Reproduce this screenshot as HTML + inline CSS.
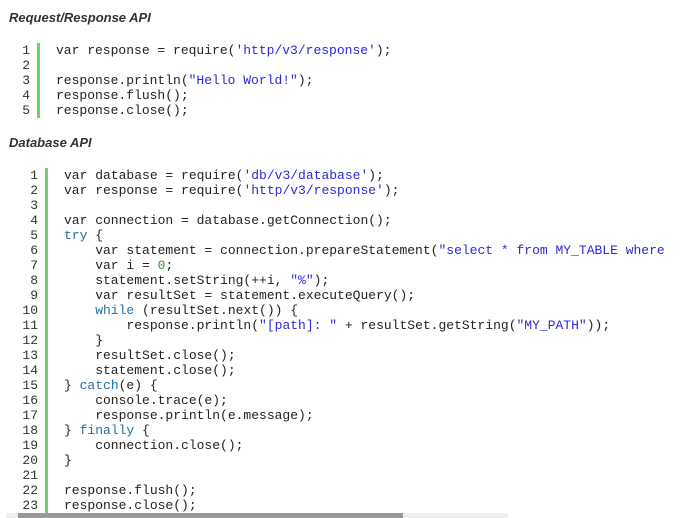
<!DOCTYPE html>
<html><head><meta charset="utf-8"><style>
body{margin:0;width:688px;height:518px;background:#fff;overflow:hidden;position:relative;font-family:"Liberation Sans",sans-serif}
h{position:absolute;font-weight:bold;font-style:italic;font-size:13px;color:#333;left:9px}
.blk{position:absolute;font-family:"Liberation Mono",monospace;font-size:13px;color:#222;white-space:pre;line-height:15px}
.n{position:absolute;text-align:right;width:30px;color:#333}
.bar{position:absolute;background:#6ad66a;width:3px}
.s{color:#2a2ad8}.k{color:#1f6fa8}.g{color:#2a9a2a}
.code{position:absolute;overflow:hidden}
</style></head><body>
<h style="top:10px">Request/Response API</h>
<div class="bar" style="left:37px;top:43px;height:75px"></div>
<div class="blk n" style="left:0;top:43px">1
2
3
4
5</div>
<div class="blk code" style="left:56px;top:43px">var response = require(<span class="s">'http/v3/response'</span>);

response.println(<span class="s">"Hello World!"</span>);
response.flush();
response.close();</div>
<h style="top:135px">Database API</h>
<div class="bar" style="left:45px;top:168px;height:350px"></div>
<div class="blk n" style="left:8px;top:168px">1
2
3
4
5
6
7
8
9
10
11
12
13
14
15
16
17
18
19
20
21
22
23</div>
<div class="blk code" style="left:64px;top:168px;width:606px">var database = require(<span class="s">'db/v3/database'</span>);
var response = require(<span class="s">'http/v3/response'</span>);

var connection = database.getConnection();
<span class="k">try</span> {
    var statement = connection.prepareStatement(<span class="s">"select * from MY_TABLE where MY_PATH like ?"</span>);
    var i = <span class="g">0</span>;
    statement.setString(++i, <span class="s">"%"</span>);
    var resultSet = statement.executeQuery();
    <span class="k">while</span> (resultSet.next()) {
        response.println(<span class="s">"[path]: "</span> + resultSet.getString(<span class="s">"MY_PATH"</span>));
    }
    resultSet.close();
    statement.close();
} <span class="k">catch</span>(e) {
    console.trace(e);
    response.println(e.message);
} <span class="k">finally</span> {
    connection.close();
}

response.flush();
response.close();</div>
<div style="position:absolute;left:6px;top:513px;width:502px;height:5px;background:#eee"></div>
<div style="position:absolute;left:18px;top:513px;width:385px;height:5px;background:#999"></div>
</body></html>
